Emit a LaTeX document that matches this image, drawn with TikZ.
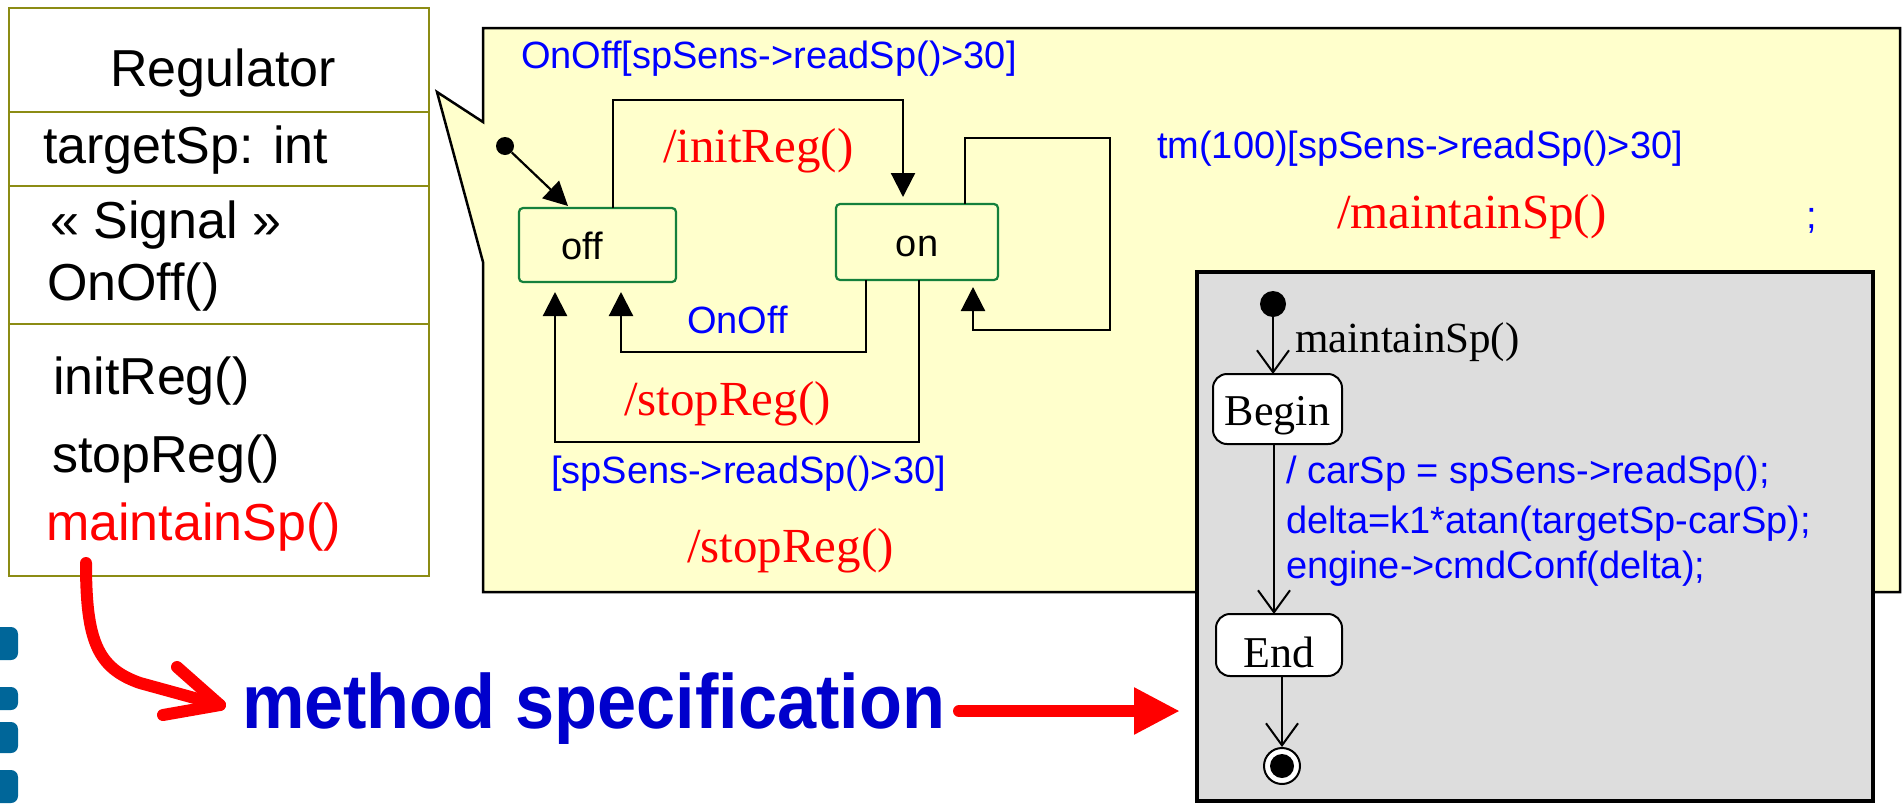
\documentclass[tikz,border=0pt]{standalone}
\usepackage{fontspec}
\setmainfont{Liberation Sans}
\newfontfamily\serifface{Liberation Serif}
\usepackage{graphicx}
\usetikzlibrary{arrows.meta,calc}

\definecolor{noteyellow}{HTML}{FFFFCC}
\definecolor{classolive}{RGB}{140,140,20}
\definecolor{stategreen}{RGB}{20,128,60}
\definecolor{guardblue}{RGB}{0,0,255}
\definecolor{actionred}{RGB}{255,0,0}
\definecolor{boxgray}{RGB}{221,221,221}
\definecolor{titleblue}{RGB}{0,0,204}
\definecolor{decoteal}{RGB}{0,102,153}

\newcommand{\sansat}[1]{\fontsize{#1}{#1}\selectfont}
\newcommand{\serifat}[1]{\serifface\fontsize{#1}{#1}\selectfont}

\tikzset{
  txt/.style={anchor=base west, inner sep=0pt, outer sep=0pt},
  guard/.style={txt, text=guardblue, font=\sansat{38}},
  action/.style={txt, text=actionred, font=\serifat{49}},
  member/.style={txt, font=\sansat{52}},
  statebox/.style={draw=stategreen, line width=2.2pt, rounded corners=4pt,
    fill=noteyellow, inner sep=0pt, outer sep=0pt, font=\sansat{38},
    text height=28pt, text depth=0pt},
  trans/.style={draw=black, line width=2.2pt, -{Triangle[length=24pt,width=24pt]}},
  actstate/.style={draw=black, line width=2pt, fill=white, rounded corners=14pt,
    inner sep=0pt, outer sep=0pt, font=\serifat{44}, text depth=0pt},
  flow/.style={draw=black, line width=2pt, -{Straight Barb[length=22pt,width=32pt]}},
  bigred/.style={draw=actionred, line width=12pt, line cap=round, line join=round},
}

\begin{document}
\begin{tikzpicture}[x=1pt, y=-1pt]
\useasboundingbox (0,0) rectangle (1904,804);

% --- slide decoration on the left margin ---
\begin{scope}
  \clip (0,0) rectangle (40,804);
  \foreach \ya/\yb in {627/660, 687/710, 722/753, 770/803}
    \fill[decoteal, rounded corners=7pt] (-20,\ya) rectangle (18,\yb);
\end{scope}

% --- class Regulator ---
\node[draw=classolive, line width=2pt, fill=white, minimum width=420pt,
      minimum height=568pt, inner sep=0pt, outer sep=0pt, anchor=north west]
      (cls) at (9,8) {};
\foreach \yy in {112,186,324}
  \draw[classolive, line width=2pt] (cls.west |- 0,\yy) -- (cls.east |- 0,\yy);
\node[member, anchor=base] (clsname) at (223,86) {Regulator};
\node[member] (attr) at (43,163) {targetSp: int};
\node[member] (stereo) at (50,238) {« Signal »};
\node[member] (sig) at (47,300) {OnOff()};
\node[member] (op1) at (53,394) {initReg()};
\node[member] (op2) at (52,472) {stopReg()};
\node[member, text=actionred] (op3) at (46,540) {maintainSp()};

% --- note balloon holding the state machine ---
\path[draw=black, line width=2.5pt, fill=noteyellow, line join=miter]
  (483,28) -- (1900,28) -- (1900,592) -- (483,592) -- (483,262)
  -- (437,92) -- (483,122) -- cycle;

\node[statebox, minimum width=157pt, minimum height=74pt] (off) at (597.5,245) {off\hspace*{30pt}};
\node[statebox, minimum width=162pt, minimum height=76pt] (on) at (917,242) {on};

\node[circle, fill=black, inner sep=0pt, minimum size=18pt] (init) at (505,146) {};
\coordinate (offentry) at (568,206);
\draw[trans] (init) -- (offentry);

\draw[trans, shorten >=7pt] (off.north -| 613,0) -- (613,100) -- (903,100) -- (on.north -| 903,0);
\draw[trans, shorten >=7pt] (on.north -| 965,0) -- (965,138) -- (1110,138) -- (1110,330)
  -- (973,330) -- (on.south -| 973,0);
\draw[trans, shorten >=10pt] (on.south -| 866,0) -- (866,352) -- (621,352) -- (off.south -| 621,0);
\draw[trans, shorten >=10pt] (on.south -| 919,0) -- (919,442) -- (555,442) -- (off.south -| 555,0);

\node[guard] (g1) at (521,68) {OnOff[spSens->readSp()>30]};
\node[action] (a1) at (663,162) {/initReg()};
\node[guard] (g2) at (1157,158) {tm(100)[spSens->readSp()>30]};
\node[action] (a2) at (1337,228) {/maintainSp()};
\node[guard] (semi) at (1806,228) {;};
\node[guard] (g3) at (687,333) {OnOff};
\node[action] (a3) at (624,415) {/stopReg()};
\node[guard] (g4) at (551,483) {[spSens->readSp()>30]};
\node[action] (a4) at (687,562) {/stopReg()};

% --- activity specifying maintainSp() ---
\node[draw=black, line width=4pt, fill=boxgray, minimum width=676pt, minimum height=529pt,
      inner sep=0pt, outer sep=0pt, anchor=north west] (method) at (1197,272) {};

\node[circle, fill=black, inner sep=0pt, minimum size=26pt] (minit) at (1273,304) {};
\node[actstate, minimum width=129pt, minimum height=70pt, text height=32pt] (begin) at (1277.5,409) {Begin};
\draw[flow] (minit) -- (begin.north -| minit);
\node[txt, font=\serifat{43}] (mlabel) at (1295,352) {maintainSp()};

\node[actstate, minimum width=126pt, minimum height=62pt, text height=44pt] (end) at (1279,645) {End};
\draw[flow] (begin.south -| 1274,0) -- (end.north -| 1274,0);

\node[guard] (c1) at (1286,483) {/ carSp = spSens->readSp();};
\node[guard] (c2) at (1286,533) {delta=k1*atan(targetSp-carSp);};
\node[guard] (c3) at (1286,578) {engine->cmdConf(delta);};

\node[circle, draw=black, line width=2pt, fill=white, minimum size=36pt, inner sep=0pt] (final) at (1282,766) {};
\fill[black] (final.center) circle (12pt);
\draw[flow] (end.south -| final) -- (final);

% --- caption and red pointers ---
\node[txt, text=titleblue, font=\bfseries\sansat{77}] (spec) at (242,728)
  {\scalebox{0.913}[1]{method specification}};

\coordinate (callstart) at (86,563);
\coordinate (calltip) at (220,705);
\draw[bigred] (callstart) .. controls (86,640) and (97,668) .. (140,683) -- (calltip);
\draw[bigred] (177,667) -- (calltip) -- (163,715);

\draw[draw=actionred, line width=12pt, line cap=round, -{Triangle[length=46pt,width=44pt]},
      shorten >=17pt] (959,711) -- (method.west |- 0,711);
\end{tikzpicture}
\end{document}
